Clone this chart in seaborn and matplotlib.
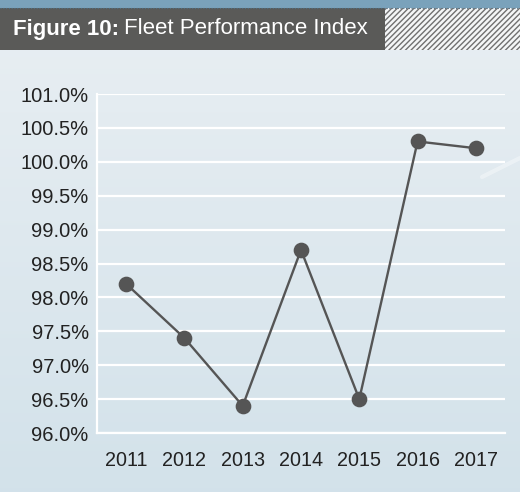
import numpy as np
import pandas as pd
import matplotlib
matplotlib.use("Agg")
import matplotlib.pyplot as plt
from matplotlib.patches import Rectangle
from matplotlib.ticker import FixedLocator, FuncFormatter
import seaborn as sns

years = ["2011", "2012", "2013", "2014", "2015", "2016", "2017"]
index_pct = [98.2, 97.4, 96.4, 98.7, 96.5, 100.3, 100.2]
y_ticks = [96.0, 96.5, 97.0, 97.5, 98.0, 98.5, 99.0, 99.5, 100.0, 100.5, 101.0]

df = pd.DataFrame({"year": years, "index": index_pct})

sns.set_style("white")
plt.rcParams["font.family"] = ["Liberation Sans", "DejaVu Sans"]
plt.rcParams["hatch.linewidth"] = 1.0

fig = plt.figure(figsize=(5.2, 4.92), dpi=100)
W, H = 520.0, 492.0

# background gradient
bg = fig.add_axes([0, 0, 1, 1], zorder=-10)
grad = np.linspace(0, 1, 256).reshape(-1, 1)
top = np.array([0.914, 0.937, 0.953])
bot = np.array([0.827, 0.886, 0.918])
img = top + (bot - top) * grad[..., None]
bg.imshow(img, aspect="auto", extent=[0, 1, 0, 1])
bg.set_xlim(0, 1)
bg.set_ylim(0, 1)
bg.axis("off")
# faint light streak on the right
bg.plot([482 / W, 1], [1 - 177 / H, 1 - 158 / H], color="white", lw=3, alpha=0.35,
        solid_capstyle="round")

# header band
bg.add_patch(Rectangle((0, 1 - 8 / H), 1, 8 / H, color="#7aa2bb", lw=0))
bg.plot([0, 1], [1 - 8 / H, 1 - 8 / H], color="#4e6f84", lw=0.8, ls=(0, (1, 1.5)))
bg.add_patch(Rectangle((0, 1 - 50 / H), 385 / W, 42 / H, color="#5a5a58", lw=0))
bg.add_patch(Rectangle((385 / W, 1 - 50 / H), 135 / W, 42 / H,
                       facecolor="#f4f6f7", edgecolor="#707070", hatch="//////", lw=0))
t1 = bg.text(13 / W, 1 - 29 / H, "Figure 10:", color="white", fontsize=16,
             fontweight="bold", va="center", ha="left")
fig.canvas.draw()
x_end = t1.get_window_extent().x1 / W
bg.text(x_end + 5 / W, 1 - 29 / H, "Fleet Performance Index", color="white",
        fontsize=16, va="center", ha="left")

ax = fig.add_axes([97 / W, 1 - 433 / H, 408 / W, 339 / H])
ax.patch.set_alpha(0)
sns.pointplot(data=df, x="year", y="index", color="#555555", ax=ax,
              markers="o", markersize=10, linewidth=1.7)

ax.set_xlim(-0.5, 6.5)
ax.set_ylim(96.0, 101.0)
ax.yaxis.set_major_locator(FixedLocator(y_ticks))
ax.yaxis.set_major_formatter(FuncFormatter(lambda v, p: f"{v:.1f}%"))
ax.grid(axis="y", color="white", lw=1.6, zorder=0)
ax.set_axisbelow(True)
ax.set_xlabel("")
ax.set_ylabel("")

ax.xaxis.set_minor_locator(FixedLocator(np.arange(0.5, 7, 1.0)))
ax.tick_params(axis="x", which="major", length=0, pad=13, labelsize=14.2, labelcolor="#222222")
ax.tick_params(axis="x", which="minor", length=6, width=1.6, direction="in", color="white")
ax.tick_params(axis="y", length=0, pad=6, labelsize=14.5, labelcolor="#222222")

for side in ["top", "right"]:
    ax.spines[side].set_visible(False)
for side in ["left", "bottom"]:
    ax.spines[side].set_color("white")
    ax.spines[side].set_linewidth(1.6)

fig.savefig("out.png", dpi=100)
